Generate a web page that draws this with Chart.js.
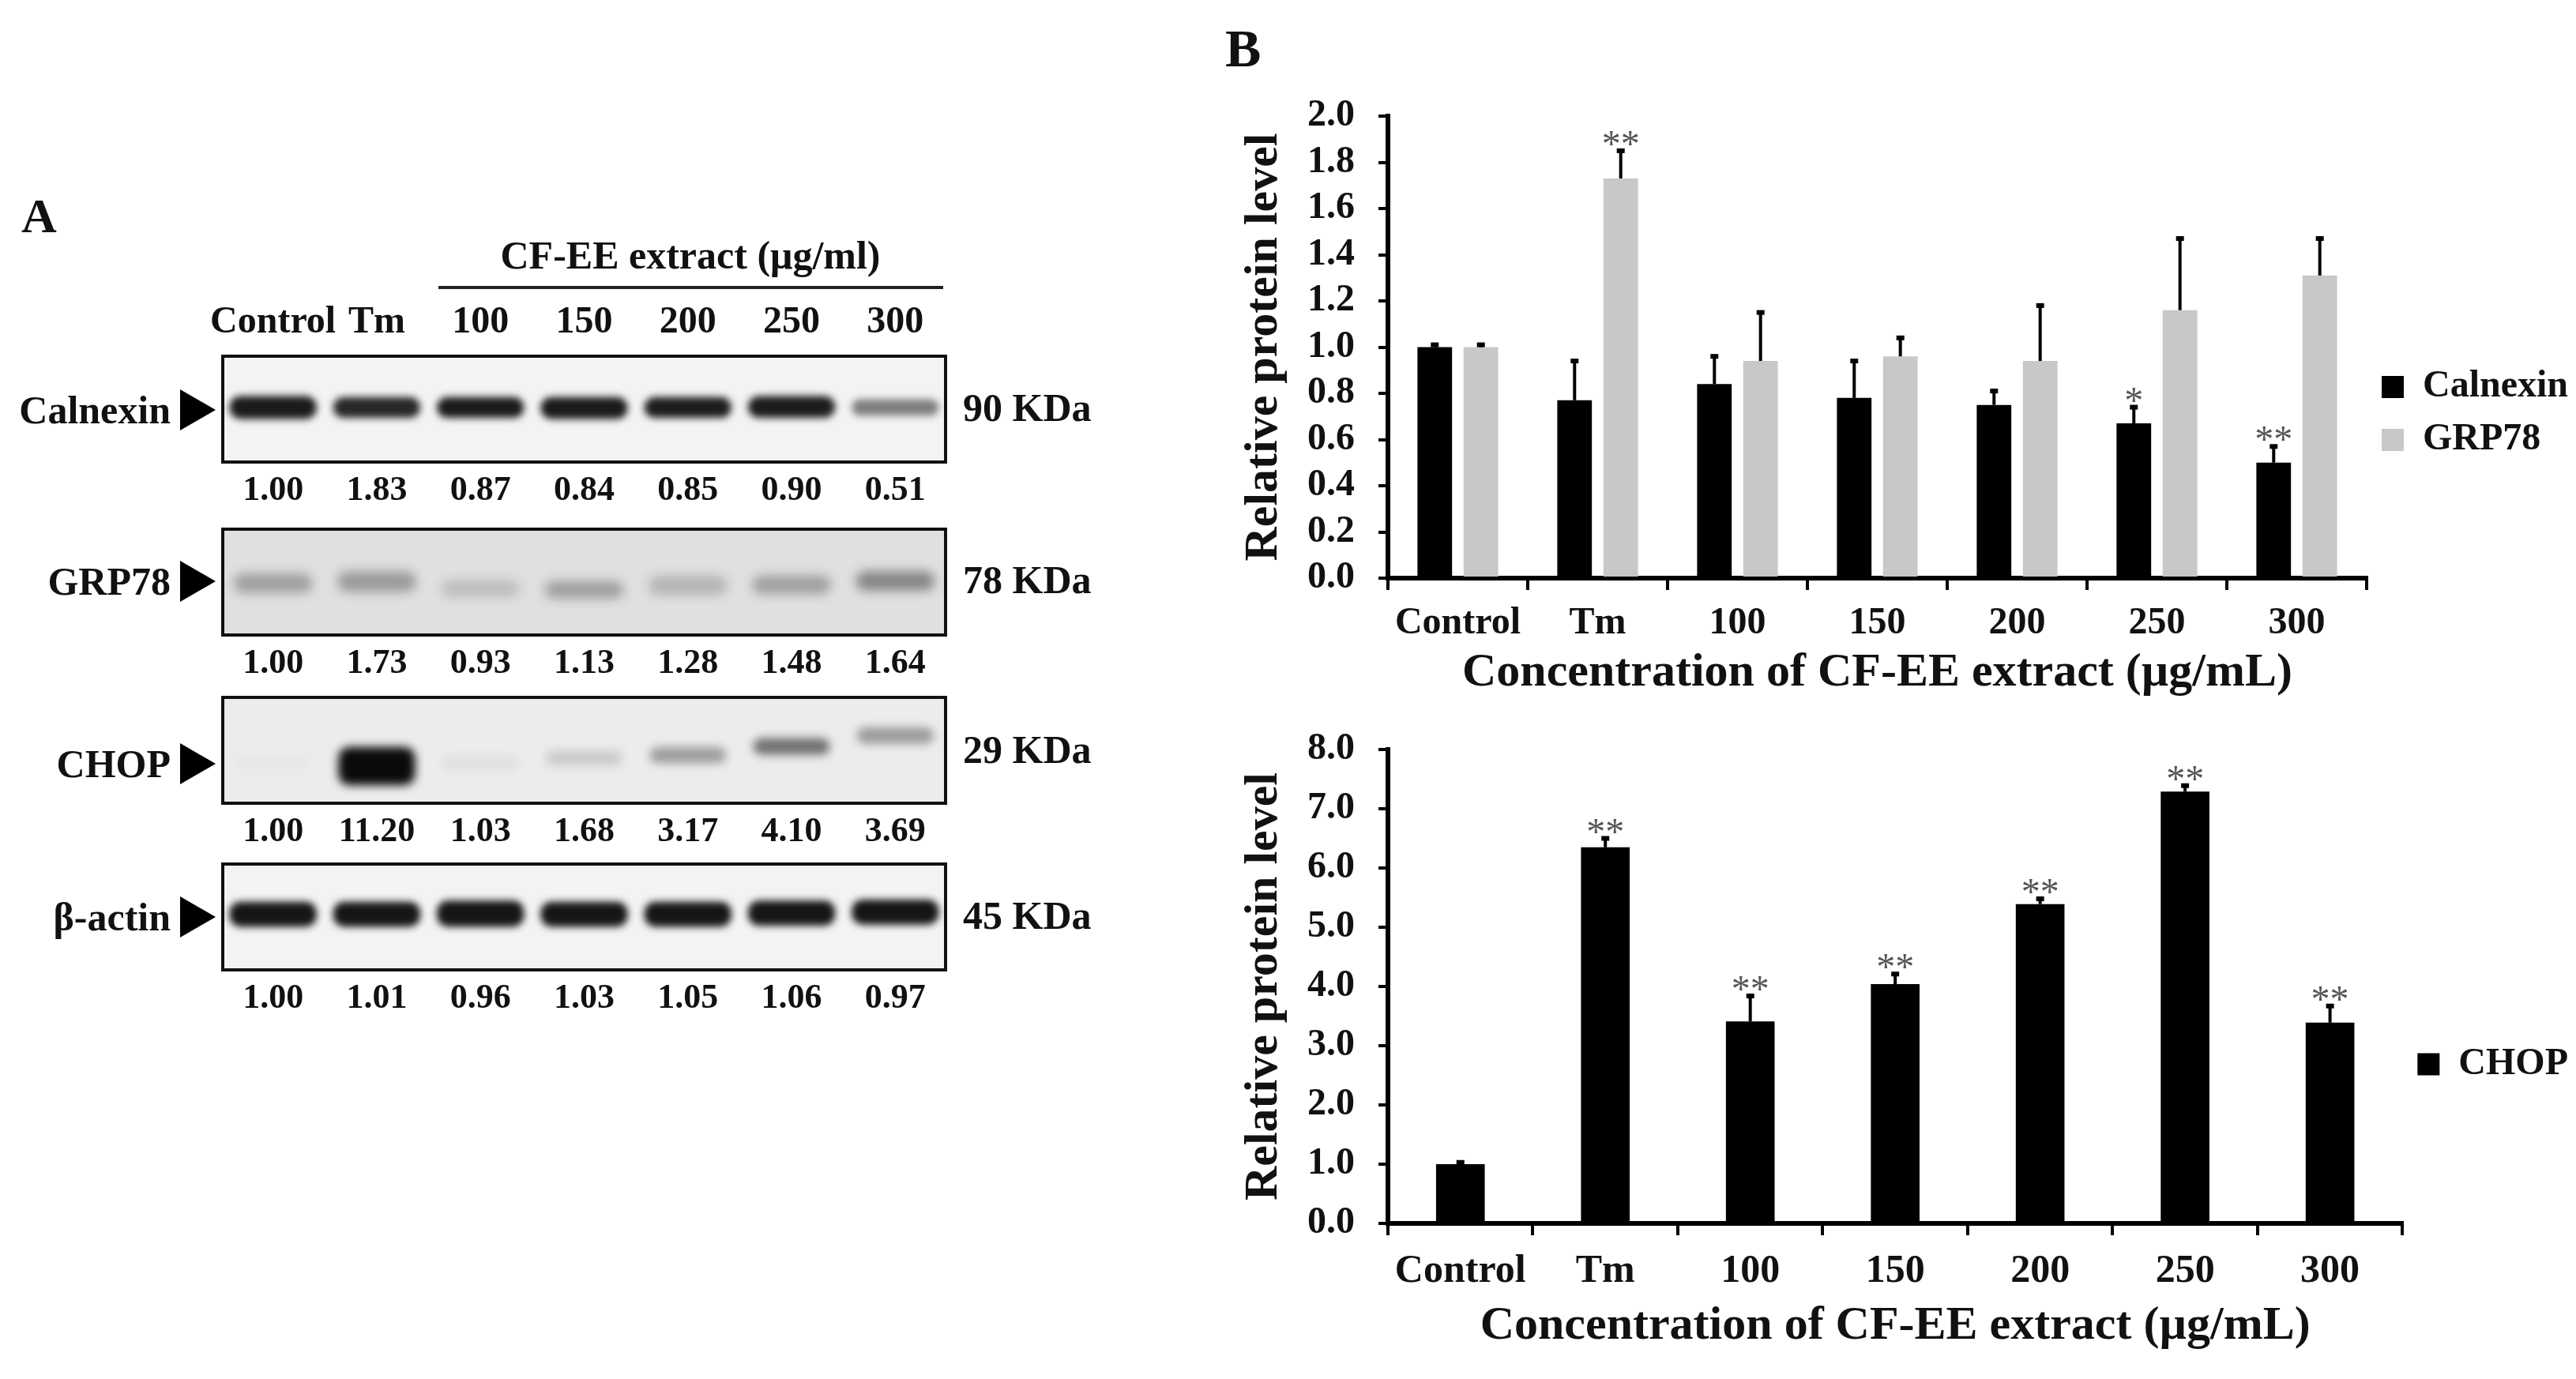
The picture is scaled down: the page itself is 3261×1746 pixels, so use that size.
<!DOCTYPE html>
<html>
<head>
<meta charset="utf-8">
<script src="https://cdn.jsdelivr.net/npm/chart.js@4.4.1/dist/chart.umd.min.js"></script>
<style>
  html, body { margin: 0; padding: 0; background: #fff; }
  body {
    width: 3261px; height: 1746px; position: relative; overflow: hidden;
    font-family: 'Liberation Serif', 'Times New Roman', serif; font-weight: bold; color: #111;
  }
  .t { position: absolute; line-height: 1; white-space: nowrap; }
  .mid { transform: translateY(-50%); }
  .ctr { transform: translate(-50%, -50%); }
  .rowlab { left: 0; width: 216px; text-align: right; font-size: 50px; }
  .kda { left: 1219px; font-size: 50px; }
  .arrow {
    position: absolute; left: 228px; width: 0; height: 0;
    border-top: 26px solid transparent; border-bottom: 26px solid transparent;
    border-left: 45px solid #000; transform: translateY(-50%);
  }
  .wrap { position: absolute; }
</style>
</head>
<body>

<!-- panel A -->
<div class="t" style="left:27px; top:242px; font-size:62px;">A</div>
<div class="t ctr" style="left:874px; top:323px; font-size:50px;">CF-EE extract (μg/ml)</div>
<div style="position:absolute; left:555px; top:362px; width:639px; height:4px; background:#222;"></div>

<div class="t rowlab mid" style="top:519px;">Calnexin</div>
<div class="arrow" style="top:519px;"></div>
<div class="t rowlab mid" style="top:736px;">GRP78</div>
<div class="arrow" style="top:736px;"></div>
<div class="t rowlab mid" style="top:967px;">CHOP</div>
<div class="arrow" style="top:967px;"></div>
<div class="t rowlab mid" style="top:1161px;">β-actin</div>
<div class="arrow" style="top:1161px;"></div>

<div class="t kda mid" style="top:516px;">90 KDa</div>
<div class="t kda mid" style="top:734px;">78 KDa</div>
<div class="t kda mid" style="top:949px;">29 KDa</div>
<div class="t kda mid" style="top:1159px;">45 KDa</div>

<div class="wrap" style="left:200px; top:379px; width:1079px; height:283px;"><canvas id="blotCalnexin"></canvas></div>
<div class="wrap" style="left:200px; top:668px; width:1079px; height:213px;"><canvas id="blotGrp78"></canvas></div>
<div class="wrap" style="left:200px; top:881px; width:1079px; height:213px;"><canvas id="blotChop"></canvas></div>
<div class="wrap" style="left:200px; top:1092px; width:1079px; height:213px;"><canvas id="blotActin"></canvas></div>

<!-- panel B -->
<div class="t" style="left:1551px; top:27px; font-size:68px;">B</div>
<div class="wrap" style="left:1560px; top:60px; width:1701px; height:840px;"><canvas id="chartTop"></canvas></div>
<div class="wrap" style="left:1560px; top:880px; width:1701px; height:866px;"><canvas id="chartBottom"></canvas></div>

<script>
// lanes / groups
const lanes = ['Control', 'Tm', '100', '150', '200', '250', '300'];

// numbers printed under each blot strip
const calnexinQuant = ['1.00', '1.83', '0.87', '0.84', '0.85', '0.90', '0.51'];
const grp78Quant = ['1.00', '1.73', '0.93', '1.13', '1.28', '1.48', '1.64'];
const chopQuant = ['1.00', '11.20', '1.03', '1.68', '3.17', '4.10', '3.69'];
const actinQuant = ['1.00', '1.01', '0.96', '1.03', '1.05', '1.06', '0.97'];

const calnexinDark = [0.93, 0.88, 0.93, 0.93, 0.92, 0.92, 0.5];
const calnexinLow = [41, 42, 42, 41, 42, 42, 44];
const calnexinHigh = [62, 61, 61, 61, 61, 62, 59];
const grp78Dark = [0.3, 0.32, 0.16, 0.3, 0.2, 0.3, 0.42];
const grp78Low = [40, 41, 36, 35, 38, 39, 42];
const grp78High = [58, 60, 52, 51, 56, 56, 60];
const chopDark = [0.02, 1.0, 0.05, 0.14, 0.34, 0.55, 0.36];
const chopLow = [33, 18, 32, 36, 38, 46, 56];
const chopHigh = [46, 53, 45, 50, 53, 61, 71];
const actinDark = [0.95, 0.95, 0.95, 0.95, 0.95, 0.95, 0.95];
const actinLow = [41, 41, 41, 41, 41, 42, 43];
const actinHigh = [64, 64, 65, 64, 64, 65, 66];

// panel B values
const groups = ['Control', 'Tm', '100', '150', '200', '250', '300'];
const calnexinMean = [1.00, 0.77, 0.84, 0.78, 0.75, 0.67, 0.50];
const calnexinErr = [0.01, 0.17, 0.12, 0.16, 0.06, 0.07, 0.07];
const calnexinSig = ['', '', '', '', '', '*', '**'];
const grp78Mean = [1.00, 1.73, 0.94, 0.96, 0.94, 1.16, 1.31];
const grp78Err = [0.01, 0.12, 0.21, 0.08, 0.24, 0.31, 0.16];
const grp78Sig = ['', '**', '', '', '', '', ''];
const chopMean = [1.00, 6.35, 3.41, 4.04, 5.39, 7.29, 3.39];
const chopErr = [0.03, 0.15, 0.43, 0.17, 0.09, 0.10, 0.28];
const chopSig = ['', '**', '**', '**', '**', '**', '**'];

const serif = "'Liberation Serif', 'Times New Roman', serif";
Chart.defaults.font.family = serif;
Chart.defaults.font.weight = 'bold';
Chart.defaults.color = '#111';
Chart.defaults.animation = false;

// strip background, blur for the bands, black frame
const blotFrame = {
    id: 'blotFrame',
    beforeDatasetsDraw(chart, args, opts) {
        const { ctx, chartArea: a } = chart;
        ctx.save();
        ctx.fillStyle = opts.bg;
        ctx.fillRect(a.left, a.top, a.right - a.left, a.bottom - a.top);
        ctx.filter = 'blur(' + opts.blur + 'px)';
    },
    afterDatasetsDraw(chart) {
        const { ctx, chartArea: a } = chart;
        ctx.restore();
        ctx.save();
        ctx.lineWidth = 4;
        ctx.strokeStyle = '#111';
        ctx.strokeRect(a.left + 2, a.top + 2, a.right - a.left - 4, a.bottom - a.top - 4);
        ctx.restore();
    }
};

function makeBlot(id, quant, dark, low, high, look, withHeader) {
    const scales = {
        x: {
            position: 'bottom',
            labels: quant,
            grid: { display: false, drawTicks: false },
            border: { display: false },
            ticks: { font: { size: 44 }, padding: 8, autoSkip: false, maxRotation: 0 },
            afterFit: s => { s.height = 75; s.paddingLeft = 0; s.paddingRight = 0; }
        },
        y: { display: false, min: 0, max: 100 }
    };
    if (withHeader) {
        scales.x2 = {
            position: 'top',
            labels: lanes,
            grid: { display: false, drawTicks: false },
            border: { display: false },
            ticks: { font: { size: 48 }, padding: 12, autoSkip: false, maxRotation: 0 },
            afterFit: s => { s.height = 70; s.paddingLeft = 0; s.paddingRight = 0; }
        };
    }
    new Chart(document.getElementById(id), {
        type: 'bar',
        data: {
            labels: quant,
            datasets: [{
                data: low.map((v, i) => [v, high[i]]),
                backgroundColor: dark.map(d => 'rgba(10,10,10,' + d + ')'),
                borderWidth: 0,
                borderRadius: 14,
                borderSkipped: false,
                barPercentage: look.width,
                categoryPercentage: 1
            }]
        },
        options: {
            responsive: true,
            maintainAspectRatio: false,
            devicePixelRatio: 1,
            layout: { padding: { left: 80, right: 80, top: 0, bottom: 0 } },
            scales: scales,
            plugins: {
                legend: { display: false },
                tooltip: { enabled: false },
                blotFrame: { bg: look.bg, blur: look.blur }
            }
        },
        plugins: [blotFrame]
    });
}

makeBlot('blotCalnexin', calnexinQuant, calnexinDark, calnexinLow, calnexinHigh, { bg: '#f3f3f3', blur: 5, width: 0.84 }, true);
makeBlot('blotGrp78', grp78Quant, grp78Dark, grp78Low, grp78High, { bg: '#e0e0e0', blur: 7, width: 0.76 }, false);
makeBlot('blotChop', chopQuant, chopDark, chopLow, chopHigh, { bg: '#ececec', blur: 6, width: 0.74 }, false);
makeBlot('blotActin', actinQuant, actinDark, actinLow, actinHigh, { bg: '#f3f3f3', blur: 5, width: 0.84 }, false);

// one-sided error bars with stars above
const errorBars = {
    id: 'errorBars',
    afterDatasetsDraw(chart) {
        const { ctx } = chart;
        const y = chart.scales.y;
        chart.data.datasets.forEach((ds, i) => {
            const meta = chart.getDatasetMeta(i);
            meta.data.forEach((bar, j) => {
                const top = y.getPixelForValue(ds.data[j] + ds.errors[j]);
                ctx.save();
                ctx.strokeStyle = '#000';
                ctx.lineWidth = 4;
                ctx.beginPath();
                ctx.moveTo(bar.x, bar.y);
                ctx.lineTo(bar.x, top);
                ctx.stroke();
                ctx.lineWidth = 6;
                ctx.beginPath();
                ctx.moveTo(bar.x - 5, top);
                ctx.lineTo(bar.x + 5, top);
                ctx.stroke();
                if (ds.sig[j]) {
                    ctx.fillStyle = '#555';
                    ctx.font = 'normal 48px ' + serif;
                    ctx.textAlign = 'center';
                    ctx.textBaseline = 'alphabetic';
                    ctx.fillText(ds.sig[j], bar.x, top + 7);
                }
                ctx.restore();
            });
        });
    }
};

function barOptions(cfg) {
    return {
        responsive: true,
        maintainAspectRatio: false,
        devicePixelRatio: 1,
        layout: { padding: { left: 0, right: 0, top: cfg.padTop, bottom: 0 } },
        scales: {
            x: {
                grid: { display: true, drawOnChartArea: false, drawTicks: true, tickLength: 15, lineWidth: 4, color: '#000', offset: true },
                border: { display: true, width: 6, color: '#000' },
                ticks: { font: { size: cfg.xFont }, padding: cfg.xPad, color: '#111', autoSkip: false, maxRotation: 0 },
                title: {
                    display: true,
                    text: 'Concentration of CF-EE extract (µg/mL)',
                    font: { size: 60, lineHeight: 1 },
                    padding: { top: 0, bottom: cfg.titlePad },
                    color: '#111'
                },
                afterFit: s => { s.height = cfg.xHeight; }
            },
            y: {
                min: 0,
                max: cfg.yMax,
                grid: { display: true, drawOnChartArea: false, drawTicks: true, tickLength: 12, lineWidth: 4, color: '#000' },
                border: { display: true, width: 6, color: '#000' },
                ticks: { stepSize: cfg.yStep, autoSkip: false, font: { size: 48 }, padding: 30, color: '#111', callback: v => v.toFixed(1) },
                title: {
                    display: true,
                    text: 'Relative protein level',
                    font: { size: 60, lineHeight: 1 },
                    padding: { top: 10, bottom: 0 },
                    color: '#111'
                },
                afterFit: s => { s.width = 197; }
            }
        },
        plugins: {
            legend: {
                position: 'right',
                align: 'center',
                labels: { font: { size: 48 }, boxWidth: 28, boxHeight: 28, padding: 19, color: '#111' }
            },
            tooltip: { enabled: false }
        }
    };
}

new Chart(document.getElementById('chartTop'), {
    type: 'bar',
    data: {
        labels: groups,
        datasets: [
            { label: 'Calnexin', data: calnexinMean, errors: calnexinErr, sig: calnexinSig,
              backgroundColor: '#000', borderWidth: 0, categoryPercentage: 0.66, barPercentage: 0.75 },
            { label: 'GRP78', data: grp78Mean, errors: grp78Err, sig: grp78Sig,
              backgroundColor: '#c8c8c8', borderWidth: 0, categoryPercentage: 0.66, barPercentage: 0.75 }
        ]
    },
    options: barOptions({ padTop: 87, yMax: 2, yStep: 0.2, xHeight: 168, xFont: 48, xPad: 14, titlePad: 18 }),
    plugins: [errorBars]
});

new Chart(document.getElementById('chartBottom'), {
    type: 'bar',
    data: {
        labels: groups,
        datasets: [
            { label: 'CHOP', data: chopMean, errors: chopErr, sig: chopSig,
              backgroundColor: '#000', borderWidth: 0, categoryPercentage: 0.8, barPercentage: 0.42 }
        ]
    },
    options: barOptions({ padTop: 69, yMax: 8, yStep: 1, xHeight: 197, xFont: 50, xPad: 16, titlePad: 37 }),
    plugins: [errorBars]
});
</script>
</body>
</html>
